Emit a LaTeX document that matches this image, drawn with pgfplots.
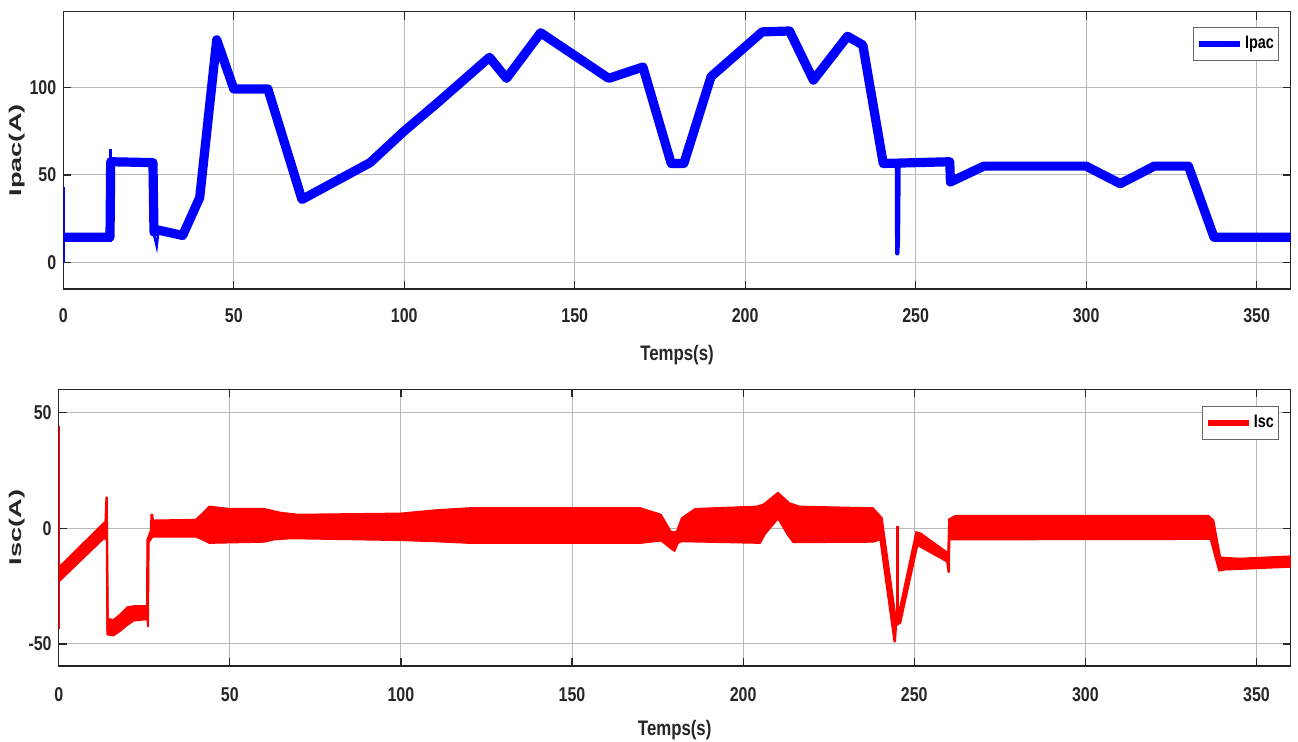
\documentclass[border=0pt]{standalone}
\usepackage{fontspec}
\setmainfont{Liberation Sans}[FakeStretch=0.8]
\newfontfamily\plainsans{Liberation Sans}
\usepackage{graphicx}
\usepackage{pgfplots}
\pgfplotsset{compat=1.18}
\definecolor{axcol}{HTML}{262626}
\pgfplotsset{
  mystyle/.style={
    scale only axis,
    xmin=0, xmax=360,
    xtick={0,50,...,350},
    xticklabels={0,50,100,150,200,250,300,350},
    tick align=inside,
    xtick pos=both, ytick pos=both,
    major tick length=4pt,
    grid=major,
    major grid style={black!28, line width=0.5pt},
    every tick/.style={axcol, line width=0.6pt},
    axis line style={axcol, line width=0.7pt},
    tick label style={font=\bfseries\fontsize{10}{12}\selectfont, text=axcol},
    xlabel style={at={(axis description cs:0.5,0)}, anchor=north, font=\bfseries\fontsize{10.5}{12}\selectfont, text=axcol},
    ylabel style={anchor=center, font=\fontsize{8.5}{10}\selectfont, text=axcol},
    legend image code/.code={\draw[#1] (0pt,0pt) -- (20.5pt,0pt);},
    legend style={draw=axcol!70, line width=0.5pt, fill=white, inner xsep=1.5pt, inner ysep=1.5pt,
      font=\bfseries\fontsize{9}{10}\selectfont, nodes={inner xsep=0.8pt, inner ysep=3pt},
      at={(axis description cs:1,1)}, anchor=north east},
  }
}
\begin{document}
\begin{tikzpicture}
\useasboundingbox (0pt,0pt) rectangle (649pt,371pt);
% ---------------- top axis ----------------
\begin{axis}[mystyle, at={(31.65pt,226.5pt)}, anchor=south west,
  width=613.7pt, height=138.65pt,
  ymin=-15, ymax=143, ytick={0,50,100}, yticklabels={0,50,100},
  xticklabel shift=6pt,
  xlabel={Temps(s)}, xlabel style={yshift=-24.7pt},
  ylabel={\plainsans\bfseries\scalebox{1.6}[1]{Ipac(A)}},
  ylabel style={at={(axis description cs:-0.0377,0.5)}},
  legend style={xshift=-5.85pt, yshift=-7.65pt}]
\addlegendimage{blue, line width=3pt}
\addlegendentry{Ipac}
\addplot[blue, line width=4.6pt, line join=round, forget plot] coordinates {
(0.3,14.5) (13.7,14.5) (13.9,57.5) (26.3,57) (26.6,17.5) (28,18.5) (35,15.5) (40,37)
(45,127) (50,99) (60,99) (70,36) (80,46.5) (90,57) (100,75) (110,91.5) (125,117)
(130,105) (140,131) (160,105) (170,111.5) (178.3,56.5) (182,56.5) (190,106)
(205,131.5) (213,132) (220,104) (230,129) (234.5,124) (240.5,56.5) (260,57.5)
(260.2,46) (270,55) (300,55) (310,45) (320,55) (330,55) (337.5,14.5) (360,14.5)};
\addplot[blue, line width=1.2pt, forget plot] coordinates {(0.15,0) (0.15,43)};
\addplot[blue, line width=1.2pt, forget plot] coordinates {(13.8,11.5) (13.8,65)};
\addplot[blue, line width=1.2pt, forget plot] coordinates {(26.5,17) (27.4,9.3) (27.9,18)};
\addplot[blue, line width=1.5pt, line join=round, forget plot] coordinates {(244.3,57) (244.4,5) (244.8,5) (245.0,13) (245.2,57)};
\end{axis}
% ---------------- bottom axis ----------------
\begin{axis}[mystyle, at={(29.35pt,38pt)}, anchor=south west,
  width=616pt, height=138.35pt,
  ymin=-59.5, ymax=60, ytick={-50,0,50}, yticklabels={-50,0,50},
  xticklabel shift=7pt,
  xlabel={Temps(s)}, xlabel style={yshift=-23.7pt},
  ylabel={\plainsans\bfseries\scalebox{1.6}[1]{Isc(A)}},
  ylabel style={at={(axis description cs:-0.0338,0.5)}},
  legend style={xshift=-5.85pt, yshift=-8.35pt}]
\addlegendimage{red, line width=3pt}
\addlegendentry{Isc}
\addplot[fill=red, draw=red, line width=0.6pt, line join=round, forget plot] coordinates {
(0.2,-16.5) (13.2,2.5) (13.7,2.5) (14.2,2) (14.4,-39) (16,-39.5) (18,-37) (20,-34) (22,-33.5)
(25.7,-33.5) (25.8,-5) (26.8,-1) (27.0,6) (27.4,6) (27.7,3.5) (40,3.8) (42,6.5) (44,9.5)
(50,8.5) (60,8.5) (65,6.8) (70,6.0) (100,6.5) (110,7.9) (120,8.8) (170,8.8) (176,6)
(179,-1.5) (180.5,-1.5) (182,4.5) (186,8.5) (204,9.5) (206,10.5) (210.2,15.5) (213.5,11)
(216.5,9.5) (238,8.8) (240.6,4.5) (244.6,-38) (245.8,-34) (250.5,-1.5) (252,-2.2)
(259.8,-10.5) (260.1,4) (262,5.5) (336,5.5) (337.5,3.5) (339.5,-12.5) (345,-13) (360,-12)
(360,-16.8) (341,-18) (339,-18.5) (336.5,-4.8) (262,-5) (260.4,-5) (260.2,-19) (259.9,-19)
(259.5,-14.5) (251,-7.5) (246,-41) (244.8,-42) (244.5,-49) (244.1,-49) (240,-5) (238,-6)
(216,-6.2) (214.6,-6.2) (213,-3) (210.2,4) (206.5,-2.5) (205,-6.5) (182,-5.8) (181,-6.5)
(180,-10) (179,-9) (176,-5.5) (170,-6.5) (120,-6.5) (110,-5.8) (100,-5.3) (68,-4.5) (63,-5)
(60,-6) (44,-6.5) (42,-5) (40,-3.8) (27.5,-3.8) (26.4,-6) (26.2,-42.5) (26.0,-42.5)
(25.8,-39.5) (22,-40) (20,-42) (18,-44.5) (16,-46.5) (14.1,-46) (14.0,-5) (13.2,-4.5)
(0.2,-23)} -- cycle;
\addplot[red, line width=1.2pt, forget plot] coordinates {(0.15,-43.7) (0.15,44.3)};
\addplot[red, line width=1.2pt, line join=round, forget plot] coordinates {(13.6,-1) (14.0,13.3) (14.3,-44)};
\addplot[red, line width=1.5pt, forget plot] coordinates {(245.2,-40) (245.2,1)};
\end{axis}
\end{tikzpicture}
\end{document}
